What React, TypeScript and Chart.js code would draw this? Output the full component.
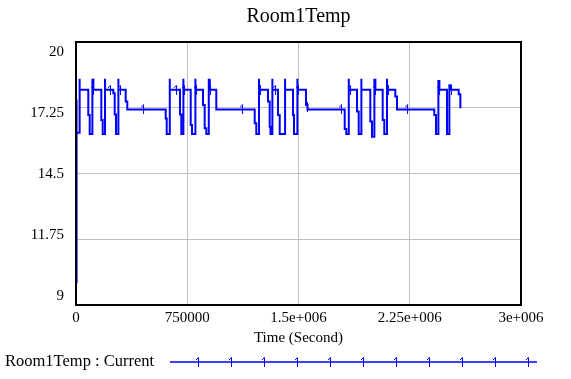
import React, { useEffect, useRef } from 'react';
import { Chart, registerables } from 'chart.js';

Chart.register(...registerables);

const chartTitle = 'Room1Temp';
const xAxisTitle = 'Time (Second)';
const legendLabel = 'Room1Temp : Current';

const xTickValues = [0, 750000, 1500000, 2250000, 3000000];
const xTickLabels = ['0', '750000', '1.5e+006', '2.25e+006', '3e+006'];
const yTickValues = [9, 11.75, 14.5, 17.25, 20];
const yTickLabels = ['9', '11.75', '14.5', '17.25', '20'];

const timeSeconds = [
  0, 3000, 5000, 22200, 22200, 24900, 24900, 26000,
  82900, 82900, 92400, 92400, 109900, 109900, 111000, 116600, 116600, 117700,
  170600, 170600, 180000, 180000, 195500, 195500, 196600,
  251500, 251500, 260900, 260900, 269700, 269700, 285200, 285200, 286300,
  335100, 335100, 345800, 345800,
  604700, 604700, 611500, 611500, 631700, 631700, 632800,
  701100, 701100, 709900, 709900, 723400, 723400, 724500,
  773300, 773300, 782000, 782000, 804300, 804300, 805400,
  856200, 856200, 867600, 867600, 878400, 878400, 894600, 894600, 895700, 901400, 901400, 902500,
  945800, 945800,
  1204700, 1204700, 1215500, 1215500, 1233700, 1233700, 1234800,
  1294400, 1294400, 1305800, 1305800, 1311200, 1311200, 1323400, 1323400, 1324500,
  1361800, 1361800, 1373300, 1373300, 1409000, 1409000, 1410100,
  1462900, 1462900, 1469700, 1469700, 1491900, 1491900, 1493000,
  1550600, 1550600, 1560700, 1560700,
  1811500, 1811500, 1822300, 1822300, 1838400, 1838400, 1839500,
  1894400, 1894400, 1905900, 1905900, 1923400, 1923400, 1924500,
  1984100, 1984100, 1995500, 1995500, 2011000, 2011000, 2012100, 2017800, 2017800, 2018900,
  2067600, 2067600, 2078400, 2078400, 2096600, 2096600, 2097700,
  2152600, 2152600, 2164100, 2164100,
  2415500, 2415500, 2427000, 2427000, 2442500, 2442500, 2443600, 2449200, 2449200, 2450300,
  2501100, 2501100, 2516600, 2516600, 2517700, 2524700, 2524700, 2525800,
  2580000, 2580000, 2590800, 2590800, 2592000,
];

const roomTemp = [
  9.95, 17.6, 16.2, 16.2, 17.4, 17.4, 18.46, 18.0,
  18.0, 16.95, 16.95, 16.15, 16.15, 18.46, 18.0, 18.0, 18.46, 18.0,
  18.0, 16.74, 16.74, 16.15, 16.15, 18.46, 18.0,
  18.0, 17.86, 17.86, 16.97, 16.97, 16.15, 16.15, 18.46, 18.0,
  18.0, 17.51, 17.51, 17.18,
  17.18, 16.8, 16.8, 16.15, 16.15, 18.46, 18.0,
  18.0, 16.97, 16.97, 16.15, 16.15, 18.46, 18.0,
  18.0, 16.53, 16.53, 16.15, 16.15, 18.46, 18.0,
  18.0, 17.37, 17.37, 16.39, 16.39, 16.15, 16.15, 18.46, 18.0, 18.0, 18.46, 18.0,
  18.0, 17.18,
  17.18, 16.6, 16.6, 16.15, 16.15, 18.46, 18.0,
  18.0, 17.51, 17.51, 16.46, 16.46, 16.15, 16.15, 18.46, 18.0,
  18.0, 16.95, 16.95, 16.15, 16.15, 18.46, 18.0,
  18.0, 16.95, 16.95, 16.15, 16.15, 18.46, 18.0,
  18.0, 17.37, 17.37, 17.18,
  17.18, 16.36, 16.36, 16.15, 16.15, 18.46, 18.0,
  18.0, 17.09, 17.09, 16.15, 16.15, 18.46, 18.0,
  18.0, 16.67, 16.67, 16.04, 16.04, 18.46, 18.0, 18.0, 18.46, 18.0,
  18.0, 16.74, 16.74, 16.15, 16.15, 18.46, 18.0,
  18.0, 17.72, 17.72, 17.18,
  17.18, 16.95, 16.95, 16.15, 16.15, 18.41, 18.0, 18.0, 18.41, 18.0,
  18.0, 16.15, 16.15, 18.23, 18.0, 18.0, 18.23, 18.0,
  18.0, 17.81, 17.81, 17.23, 17.23,
];

const markerTimes = [
  114600, 229200, 296600, 451700, 674200, 728100, 809000, 903400, 1119100, 1240500,
  1341600, 1496600, 1557300, 1786500, 1847200, 2015700, 2103400, 2231500, 2447200, 2528100,
];
const markerTemps = [
  18.0, 18.0, 18.0, 17.18, 18.0, 18.0, 18.0, 18.0, 17.18, 18.0,
  18.0, 18.0, 17.3, 17.18, 18.0, 18.0, 18.0, 17.18, 18.0, 18.0,
];

const SERIF = "'Liberation Serif', 'Times New Roman', serif";
const BLUE = '#0000ff';

function makeMarker(): HTMLCanvasElement {
  const c = document.createElement('canvas');
  c.width = 8;
  c.height = 10;
  const g = c.getContext('2d')!;
  g.strokeStyle = BLUE;
  g.lineWidth = 1;
  g.beginPath();
  g.moveTo(4.5, 0.5);
  g.lineTo(4.5, 10);
  g.moveTo(4.5, 0.5);
  g.lineTo(2, 3);
  g.stroke();
  return c;
}

export default function App() {
  const ref = useRef<HTMLCanvasElement | null>(null);

  useEffect(() => {
    if (!ref.current) return;
    const marker = makeMarker();
    const lineData = timeSeconds.map((t, i) => ({ x: t, y: roomTemp[i] }));
    const markerData = markerTimes.map((t, i) => ({ x: t, y: markerTemps[i] }));

    const decor = {
      id: 'decor',
      afterDraw(chart: any) {
        const { ctx, chartArea } = chart;
        const { left, right, top, bottom } = chartArea;
        ctx.save();
        ctx.strokeStyle = '#000';
        ctx.lineWidth = 2;
        ctx.strokeRect(left, top, right - left, bottom - top);
        ctx.fillStyle = '#000';
        ctx.textBaseline = 'middle';
        ctx.textAlign = 'center';
        ctx.font = `20px ${SERIF}`;
        ctx.fillText(chartTitle, (left + right) / 2, 17);
        ctx.textAlign = 'left';
        ctx.font = `16.5px ${SERIF}`;
        ctx.fillText(legendLabel, 5, 362);
        ctx.strokeStyle = BLUE;
        ctx.lineWidth = 1.5;
        ctx.beginPath();
        ctx.moveTo(170, 362);
        ctx.lineTo(537, 362);
        ctx.stroke();
        for (let k = 0; k < 11; k++) {
          ctx.drawImage(marker, 194 + k * 33, 357);
        }
        ctx.restore();
      },
    };

    const chart = new Chart(ref.current, {
      type: 'line',
      data: {
        datasets: [
          {
            label: legendLabel,
            data: lineData,
            borderColor: BLUE,
            backgroundColor: BLUE,
            borderWidth: 2,
            pointRadius: 0,
            fill: false,
            tension: 0,
            order: 1,
          },
          {
            label: 'markers',
            data: markerData,
            showLine: false,
            pointStyle: marker as any,
            pointRadius: 5,
            order: 0,
          },
        ],
      },
      options: {
        animation: false,
        responsive: false,
        devicePixelRatio: 1,
        layout: { padding: { top: 42, right: 50, left: 0, bottom: 0 } },
        plugins: {
          legend: { display: false },
          title: { display: false },
          tooltip: { enabled: false },
        },
        scales: {
          x: {
            type: 'linear',
            min: 0,
            max: 3000000,
            afterBuildTicks: (s: any) => {
              s.ticks = xTickValues.map((v) => ({ value: v }));
            },
            ticks: {
              callback: (v: any) => xTickLabels[xTickValues.indexOf(Number(v))],
              color: '#000',
              font: { family: SERIF, size: 15 },
              padding: 4,
              maxRotation: 0,
              autoSkip: false,
            },
            grid: { color: '#c0c0c0', drawTicks: false, lineWidth: 1 },
            border: { display: false },
            title: {
              display: true,
              text: xAxisTitle,
              color: '#000',
              font: { family: SERIF, size: 15 },
              padding: { top: 0, bottom: 32 },
            },
            afterFit: (s: any) => {
              s.height = 74;
            },
          },
          y: {
            type: 'linear',
            position: 'left',
            min: 9,
            max: 20,
            afterBuildTicks: (s: any) => {
              s.ticks = yTickValues.map((v) => ({ value: v }));
            },
            ticks: { display: false },
            grid: { color: '#c0c0c0', drawTicks: false, lineWidth: 1 },
            border: { display: false },
            afterFit: (s: any) => {
              s.width = 0;
            },
          },
          yLabels: {
            type: 'linear',
            position: 'left',
            min: 8.593,
            max: 20.475,
            afterBuildTicks: (s: any) => {
              s.ticks = yTickValues.map((v) => ({ value: v }));
            },
            ticks: {
              callback: (v: any) => yTickLabels[yTickValues.indexOf(Number(v))],
              color: '#000',
              font: { family: SERIF, size: 15 },
              padding: 12,
            },
            grid: { display: false, drawTicks: false },
            border: { display: false },
            afterFit: (s: any) => {
              s.width = 76;
            },
          },
        },
      },
      plugins: [decor],
    } as any);

    return () => chart.destroy();
  }, []);

  return (
    <div style={{ position: 'fixed', left: 0, top: 0, width: 571, height: 379, background: '#fff' }}>
      <canvas ref={ref} width={571} height={379} style={{ display: 'block', width: 571, height: 379 }} />
    </div>
  );
}
